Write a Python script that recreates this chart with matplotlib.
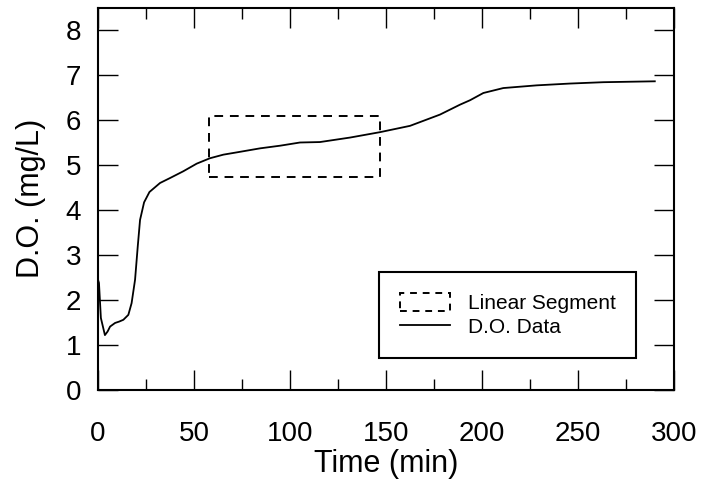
import matplotlib.pyplot as plt
from matplotlib.patches import Rectangle
from matplotlib.lines import Line2D
from matplotlib.ticker import MultipleLocator

plt.rcParams['font.family'] = ['Liberation Sans', 'DejaVu Sans']

# dissolved oxygen record
time_min = [0, 0.5, 1.5, 3.6, 5, 6.3, 8.9, 11, 13.2, 15.8, 17.5, 19.3, 20.7,
            21.9, 24.0, 26.8, 32.3, 37.5, 44.4, 51.4, 58.3, 65.3, 72.2, 84.4,
            95, 105.2, 115.6, 131.3, 146.9, 162.5, 178.1, 188.5, 193.8, 200.7,
            211.1, 228.5, 245.8, 263.2, 290]
do_mgl = [2.45, 2.38, 1.6, 1.22, 1.3, 1.41, 1.49, 1.52, 1.56, 1.67, 1.93,
          2.45, 3.19, 3.78, 4.17, 4.40, 4.60, 4.71, 4.86, 5.03, 5.15, 5.23,
          5.28, 5.37, 5.43, 5.50, 5.51, 5.61, 5.73, 5.87, 6.12, 6.34, 6.44,
          6.60, 6.71, 6.77, 6.81, 6.84, 6.86]

# linear segment box
seg_t = [58, 147]
seg_do = [4.73, 6.1]

fig = plt.figure(figsize=(7.04, 4.82), dpi=100)
ax = fig.add_axes([98/704, 1 - 390/482, 576/704, 382.5/482])

ax.plot(time_min, do_mgl, color='black', lw=1.3)
ax.add_patch(Rectangle((seg_t[0], seg_do[0]), seg_t[1] - seg_t[0],
                       seg_do[1] - seg_do[0], fill=False, edgecolor='black',
                       lw=1.4, linestyle=(0, (4.5, 3.5))))

ax.set_xlim(0, 300)
ax.set_ylim(0, 8.5)
ax.xaxis.set_major_locator(MultipleLocator(50))
ax.xaxis.set_minor_locator(MultipleLocator(25))
ax.yaxis.set_major_locator(MultipleLocator(1))

ax.tick_params(which='both', direction='in', top=True, right=True,
               width=1.0, labelsize=20)
ax.tick_params(which='major', length=14.5)
ax.tick_params(which='minor', length=8)
ax.tick_params(axis='x', pad=22)
ax.tick_params(axis='y', pad=12)
for s in ax.spines.values():
    s.set_linewidth(1.5)

ax.set_xlabel('Time (min)', fontsize=22, labelpad=2)
ax.set_ylabel('D.O. (mg/L)', fontsize=22, labelpad=14)

handles = [Rectangle((0, 0), 1, 1, fill=False, edgecolor='black', lw=1.4,
                     linestyle=(0, (3.5, 3))),
           Line2D([], [], color='black', lw=1.3)]
leg = ax.legend(handles, ['Linear Segment', 'D.O. Data'],
                loc='upper left', bbox_to_anchor=(0.488, 0.3085),
                borderaxespad=0, fontsize=15, fancybox=False,
                edgecolor='black', framealpha=1, borderpad=1.0,
                handlelength=2.4, handleheight=1.0, handletextpad=0.85,
                labelspacing=0.15)
leg.get_frame().set_linewidth(1.5)

fig.savefig('out.png', dpi=100)
